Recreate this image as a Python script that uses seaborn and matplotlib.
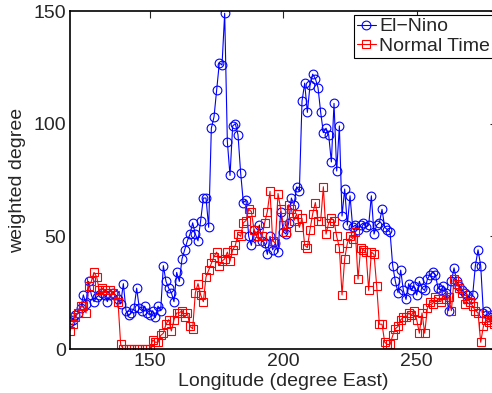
import numpy as np
import pandas as pd
import matplotlib
matplotlib.use("Agg")
import matplotlib.pyplot as plt
import seaborn as sns

# longitude grid, 1 degree steps from 120E to 280E
lon = list(range(120, 281))

el_nino = [
    12, 13, 15, 16, 18, 24, 20, 30, 24, 21,    # 120-129
    23, 24, 25, 24, 21, 24, 25, 24, 22, 20,    # 130-139
    29, 17, 15, 16, 18, 27, 18, 17, 19, 16,    # 140-149
    15, 17, 14, 19, 17, 37, 30, 27, 25, 21,    # 150-159
    34, 30, 40, 44, 48, 51, 56, 51, 48, 57,    # 160-169
    67, 67, 54, 98, 103, 115, 127, 126, 149, 92,  # 170-179
    77, 99, 100, 95, 78, 65, 66, 50, 46, 53,   # 180-189
    50, 55, 48, 47, 42, 50, 44, 47, 43, 61,    # 190-199
    52, 51, 56, 67, 64, 72, 70, 110, 118, 105,  # 200-209
    117, 122, 120, 116, 105, 96, 98, 95, 83, 109,  # 210-219
    79, 99, 59, 71, 55, 68, 54, 55, 53, 55,    # 220-229
    56, 54, 55, 68, 51, 55, 56, 62, 54, 53,    # 230-239
    52, 37, 30, 25, 35, 26, 22, 29, 26, 28,    # 240-249
    24, 30, 27, 26, 31, 33, 34, 33, 27, 26,    # 250-259
    28, 25, 17, 30, 36, 30, 28, 26, 25, 24,    # 260-269
    22, 24, 37, 44, 37, 16, 17, 14, 15, 13,    # 270-279
    16,                                        # 280
]

normal = [
    8, 11, 14, 16, 19, 19, 16, 28, 30, 34,     # 120-129
    32, 26, 27, 26, 25, 26, 25, 24, 21, 2,     # 130-139
    0, 0, 0, 0, 0, 0, 0, 0, 0, 0,              # 140-149
    0, 4, 3, 3, 6, 7, 11, 13, 8, 13,           # 150-159
    16, 16, 17, 14, 16, 10, 9, 25, 29, 24,     # 160-169
    21, 32, 35, 38, 41, 43, 37, 39, 40, 43,    # 170-179
    39, 44, 46, 51, 50, 56, 57, 62, 61, 53,    # 180-189
    50, 48, 50, 56, 61, 70, 48, 47, 69, 62,    # 190-199
    55, 52, 64, 62, 57, 60, 54, 58, 46, 45,    # 200-209
    53, 60, 65, 57, 57, 72, 51, 56, 58, 57,    # 210-219
    50, 45, 24, 40, 47, 50, 49, 52, 31, 45,    # 220-229
    44, 43, 26, 43, 42, 28, 11, 11, 3, 2,      # 230-239
    2, 6, 9, 10, 13, 14, 14, 16, 15, 17,       # 240-249
    13, 7, 16, 7, 18, 21, 20, 23, 22, 21,      # 250-259
    24, 22, 23, 17, 31, 29, 27, 25, 20, 22,    # 260-269
    21, 19, 17, 16, 3, 10, 13, 12, 15, 11,     # 270-279
    14,                                        # 280
]

xticks = [150, 200, 250]
yticks = [0, 50, 100, 150]


def plot_degree():
    sns.set_style("white")
    plt.rcParams['font.family'] = ['Liberation Sans', 'DejaVu Sans']
    plt.rcParams['font.size'] = 14

    fig = plt.figure(figsize=(4.92, 3.93), dpi=100)
    ax = fig.add_axes([70 / 492, 44 / 393, 426.7 / 492, 338 / 393])

    sns.lineplot(x=lon, y=el_nino, ax=ax, color='blue', marker='o',
                 markersize=6.3, markerfacecolor='none', markeredgecolor='blue',
                 markeredgewidth=0.8, linewidth=0.8, label='El\u2212Nino')
    sns.lineplot(x=lon, y=normal, ax=ax, color='red', marker='s',
                 markersize=5.5, markerfacecolor='none', markeredgecolor='red',
                 markeredgewidth=0.8, linewidth=0.8, label='Normal Time')

    ax.set_xlim(120, 280)
    ax.set_ylim(0, 150)
    ax.set_xticks(xticks)
    ax.set_yticks(yticks)
    ax.tick_params(direction='in', length=5, width=0.8, top=True, right=True,
                   labelsize=14, pad=3)
    for s in ax.spines.values():
        s.set_color('black')
        s.set_linewidth(1.2)
    ax.set_xlabel('Longitude (degree East)', fontsize=14, labelpad=2)
    ax.set_ylabel('weighted degree', fontsize=14, labelpad=5)

    leg = ax.legend(loc='upper right', fontsize=14, handlelength=1.0,
                    handletextpad=0.15, borderpad=0.15, labelspacing=0.1,
                    borderaxespad=0.2, fancybox=False, framealpha=1)
    leg.get_frame().set_edgecolor('black')
    leg.get_frame().set_linewidth(0.8)

    fig.savefig('out.png', dpi=100)


if __name__ == "__main__":
    plot_degree()
